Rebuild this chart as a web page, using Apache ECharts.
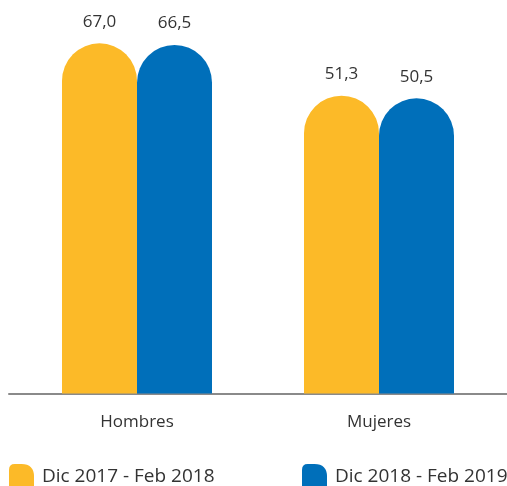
<!DOCTYPE html>
<html>
<head>
<meta charset="utf-8">
<script src="https://cdn.jsdelivr.net/npm/echarts@6/dist/echarts.min.js"></script>
<style>
  html, body { margin: 0; padding: 0; background: #fff; }
  #chart { width: 507px; height: 486px; }
</style>
</head>
<body>
<div id="chart"></div>
<script>
// datos
var categorias = ['Hombres', 'Mujeres'];
var serie2018 = [67.0, 51.3];
var serie2019 = [66.5, 50.5];
var nombres = ['Dic 2017 - Feb 2018', 'Dic 2018 - Feb 2019'];

var amarillo = '#FCBA28';
var azul = '#006FBA';
var fuente = 'Open Sans';

var chart = echarts.init(document.getElementById('chart'));

function etiqueta(p) {
  return p.value.toFixed(1).replace('.', ',');
}

var icono = 'path://M0,26 L0,6 Q0,0 6,0 L13,0 Q26,0 26,13 L26,26 Z';

function leyenda(nombre, x) {
  return {
    left: x,
    top: 464,
    padding: 0,
    itemWidth: 25,
    itemHeight: 26,
    icon: icono,
    textStyle: { fontSize: 19, color: '#333', fontFamily: fuente, padding: [0, 0, 0, 3] },
    data: [nombre]
  };
}

chart.setOption({
  animation: false,
  textStyle: { fontFamily: fuente },
  legend: [leyenda(nombres[0], 9), leyenda(nombres[1], 302)],
  grid: [
    { left: 16, right: 7, top: 20, bottom: 92.5 },
    { left: 9, right: 0, top: 20, bottom: 92.5 }
  ],
  xAxis: [
    {
      type: 'category',
      gridIndex: 0,
      data: categorias,
      axisLine: { show: false },
      axisTick: { show: false },
      axisLabel: { fontSize: 17, color: '#333', margin: 20, fontFamily: fuente }
    },
    {
      type: 'category',
      gridIndex: 1,
      data: [],
      axisLine: { show: true, lineStyle: { color: '#8a8a8a', width: 2 } },
      axisTick: { show: false },
      axisLabel: { show: false }
    }
  ],
  yAxis: [
    { type: 'value', gridIndex: 0, min: -38, max: 74, startValue: -38, show: false },
    { type: 'value', gridIndex: 1, show: false }
  ],
  series: [
    {
      name: nombres[0],
      type: 'bar',
      data: serie2018,
      barWidth: 75,
      barGap: 0,
      itemStyle: { color: amarillo, borderRadius: [37.5, 37.5, 0, 0] },
      label: { show: true, position: 'top', distance: 13, fontSize: 17, color: '#333', formatter: etiqueta }
    },
    {
      name: nombres[1],
      type: 'bar',
      data: serie2019,
      barWidth: 75,
      barGap: 0,
      itemStyle: { color: azul, borderRadius: [37.5, 37.5, 0, 0] },
      label: { show: true, position: 'top', distance: 13, fontSize: 17, color: '#333', formatter: etiqueta }
    }
  ]
});
</script>
</body>
</html>
